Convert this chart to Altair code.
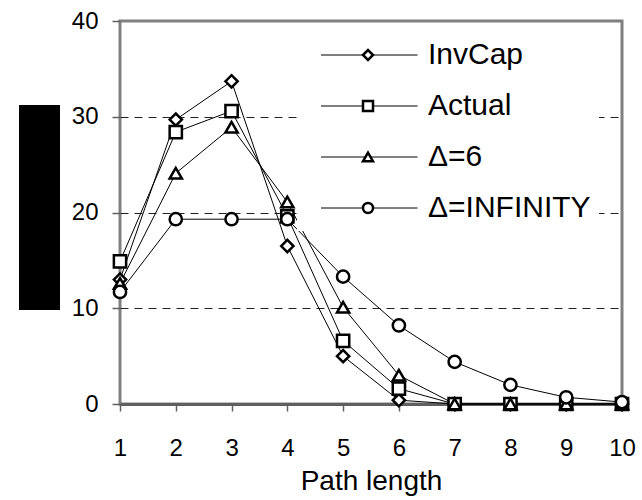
import altair as alt
import pandas as pd

path_length = [1, 2, 3, 4, 5, 6, 7, 8, 9, 10]
series_names = ["InvCap", "Actual", "Δ=6", "Δ=INFINITY"]
invcap = [13.0, 29.7, 33.7, 16.5, 5.0, 0.4, 0.0, 0.0, 0.0, 0.0]
actual = [14.9, 28.4, 30.6, 19.6, 6.6, 1.6, 0.0, 0.0, 0.0, 0.0]
delta6 = [12.6, 24.1, 28.9, 21.1, 10.1, 3.0, 0.0, 0.0, 0.0, 0.0]
delta_inf = [11.7, 19.3, 19.3, 19.3, 13.3, 8.2, 4.4, 2.0, 0.7, 0.2]
shapes = ["diamond", "square", "triangle-up", "circle"]
y_ticks = [0, 10, 20, 30, 40]

rows = []
for name, vals in zip(series_names, [invcap, actual, delta6, delta_inf]):
    for x, v in zip(path_length, vals):
        rows.append({"x": x, "v": v, "series": name})
df = pd.DataFrame(rows)

FONT = "Liberation Sans"

x_enc = alt.X(
    "x:Q",
    scale=alt.Scale(domain=[1, 10], nice=False, zero=False),
    axis=alt.Axis(
        values=path_length, format="d", labelOverlap=False, labelFlush=False,
        title="Path length", grid=False,
        domainColor="#606060", domainWidth=3, tickColor="#606060",
        tickSize=7, tickWidth=1.5, labelFont=FONT, labelFontSize=24,
        labelColor="black", labelPadding=25, titleFont=FONT,
        titleFontSize=28, titleFontWeight="normal", titleColor="black",
        titlePadding=7,
    ),
)
y_enc = alt.Y(
    "v:Q",
    scale=alt.Scale(domain=[0, 40], nice=False),
    axis=alt.Axis(
        values=y_ticks, format="d", title=None, domain=False, tickColor="#606060",
        tickSize=8, tickWidth=1.5, labelFont=FONT, labelFontSize=24,
        labelColor="black", labelPadding=14, grid=True,
        gridColor="#222222", gridDash=[8, 6], gridWidth=1,
        gridOpacity={"condition": {"test": "datum.value == 0 || datum.value == 40", "value": 0}, "value": 1},
    ),
)

lines = alt.Chart(df).mark_line(strokeWidth=1).encode(
    x=x_enc,
    y=y_enc,
    stroke=alt.Stroke(
        "series:N", sort=series_names,
        scale=alt.Scale(range=["black"] * 4),
        legend=alt.Legend(
            orient="none", legendX=177, legendY=12, direction="vertical",
            title=None, fillColor="white", padding=8,
            symbolType="M-0.723,0H1", symbolSize=12544, symbolStrokeWidth=1,
            symbolStrokeColor="black", clipHeight=28, labelFont=FONT,
            labelFontSize=30, labelOffset=10, labelLimit=400, rowPadding=21,
            labelColor="black", zindex=1,
        ),
    ),
)

layers = [lines]
for i, (name, shp) in enumerate(zip(series_names, shapes)):
    pts = alt.Chart(df).transform_filter(
        alt.datum.series == name
    ).mark_point(
        shape=shp, size=150, filled=False, fill="white", strokeWidth=2.5,
        opacity=1, fillOpacity=1, strokeOpacity=1,
    ).encode(
        x="x:Q",
        y="v:Q",
        stroke=alt.Stroke(
            "series:N",
            scale=alt.Scale(range=["black"]),
            legend=alt.Legend(
                orient="none", legendX=225, legendY=12 + 51 * i,
                direction="vertical", title=None, padding=8,
                symbolType=shp, symbolSize=100, symbolStrokeWidth=2.5,
                symbolFillColor="white", symbolOpacity=1,
                clipHeight=28, labelFont=FONT, labelFontSize=30,
                labelOffset=10, labelLimit=400, labelExpr="''", zindex=2,
            ),
        ),
    )
    layers.append(pts)

block = alt.Chart(pd.DataFrame({"k": [0]})).mark_rect(color="black").encode(
    x=alt.value(-101), x2=alt.value(-60), y=alt.value(84), y2=alt.value(289)
)

chart = alt.layer(block, *layers).resolve_scale(
    stroke="independent"
).resolve_legend(stroke="independent").properties(
    width=502, height=383,
    autosize=alt.AutoSizeParams(type="none"),
    padding={"left": 120, "top": 21, "right": 20, "bottom": 96},
    background="white",
).configure_view(stroke="#808080", strokeWidth=3)

chart.save("out.html", embed_options={"renderer": "svg", "actions": False})
